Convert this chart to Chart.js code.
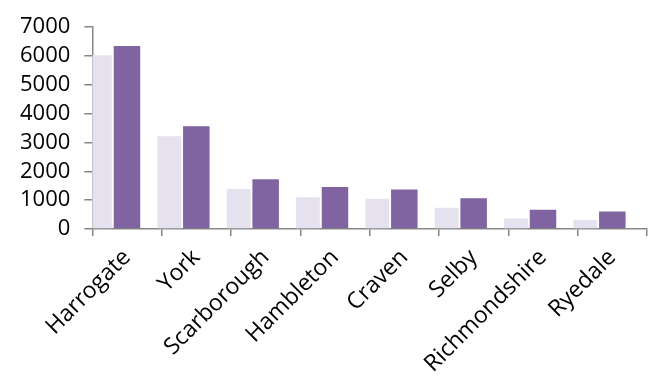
<!DOCTYPE html>
<html>
<head>
<meta charset="utf-8">
<script src="https://cdn.jsdelivr.net/npm/chart.js@4"></script>
<style>
  html, body { margin: 0; padding: 0; background: #fff; }
  #wrap { width: 653px; height: 376px; }
</style>
</head>
<body>
<div id="wrap"><canvas id="myChart" width="653" height="376"></canvas></div>
<script>
var ctx = document.getElementById('myChart').getContext('2d');

const labels = ['Harrogate', 'York', 'Scarborough', 'Hambleton', 'Craven', 'Selby', 'Richmondshire', 'Ryedale'];
const lightValues = [6030, 3220, 1385, 1100, 1045, 740, 365, 310];
const purpleValues = [6350, 3560, 1725, 1460, 1370, 1065, 670, 610];
const yTicks = [0, 1000, 2000, 3000, 4000, 5000, 6000, 7000];

const axisGrey = '#868686';

const data = {
    labels: labels,
    datasets: [
        {
            label: 'Series 1',
            backgroundColor: '#e6e1ee',
            data: lightValues,
            barPercentage: 0.88,
        },
        {
            label: 'Series 2',
            backgroundColor: '#8064a2',
            data: purpleValues,
            barPercentage: 0.98,
        },
        {
            // empty slot so the purple bar sits in the middle of its category
            label: '',
            data: labels.map(() => null),
        }
    ]
};

var myChart = new Chart(ctx, {
    type: 'bar',
    data: data,
    options: {
        responsive: false,
        animation: false,
        devicePixelRatio: 1,
        categoryPercentage: 1.17,
        layout: { padding: { left: 6, right: 6, top: 10, bottom: 0 } },
        plugins: {
            legend: { display: false },
            tooltip: { enabled: false }
        },
        scales: {
            x: {
                afterFit: function (scale) {
                    // labels run off the bottom edge like in the original
                    scale.height = 147;
                },
                grid: { drawOnChartArea: false, color: axisGrey, tickLength: 7, lineWidth: 1.5 },
                border: { color: axisGrey, width: 1.5 },
                ticks: {
                    color: '#000',
                    font: { family: 'Open Sans', size: 23 },
                    minRotation: 45,
                    maxRotation: 45,
                    autoSkip: false,
                    padding: 8
                }
            },
            y: {
                min: 0,
                max: 7000,
                afterBuildTicks: function (axis) {
                    axis.ticks = yTicks.map(v => ({ value: v }));
                },
                grid: { drawOnChartArea: false, color: axisGrey, tickLength: 8, lineWidth: 1.5 },
                border: { color: axisGrey, width: 1.5 },
                ticks: {
                    color: '#000',
                    font: { family: 'Open Sans', size: 22 },
                    padding: 14,
                    autoSkip: false,
                    callback: v => String(v)
                }
            }
        }
    }
});
</script>
</body>
</html>
